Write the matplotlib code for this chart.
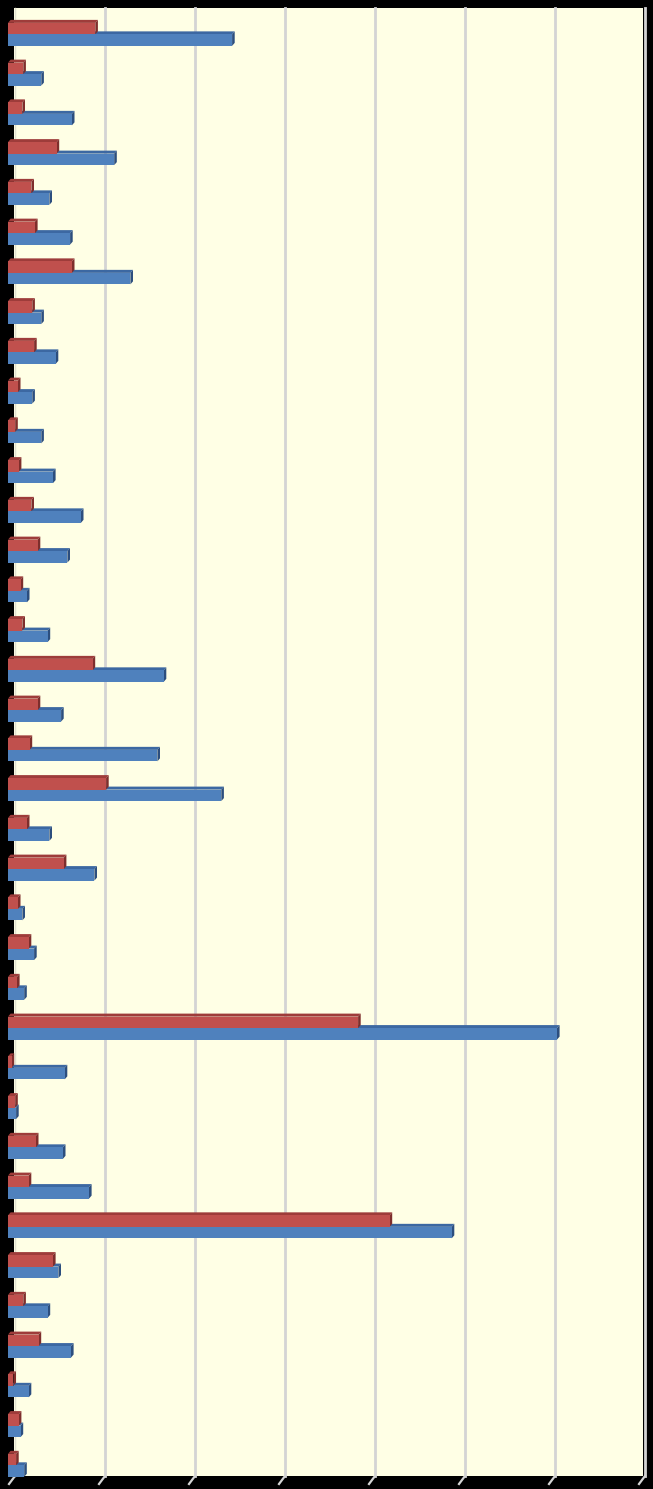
import matplotlib
matplotlib.use("Agg")
import matplotlib.pyplot as plt
from matplotlib.patches import Polygon, Rectangle
from matplotlib.lines import Line2D
import numpy as np

# data (grid step = 10 units)
categories = [f"C{i+1}" for i in range(37)]
red_values = [9.7, 1.7, 1.6, 5.4, 2.6, 3.0, 7.1, 2.7, 2.9, 1.1, 0.8, 1.2, 2.6, 3.3,
              1.4, 1.6, 9.4, 3.3, 2.4, 10.9, 2.1, 6.2, 1.1, 2.3, 1.0, 38.9, 0.4, 0.8,
              3.1, 2.3, 42.4, 5.0, 1.7, 3.4, 0.6, 1.2, 0.9]
blue_values = [24.9, 3.7, 7.1, 11.8, 4.6, 6.9, 13.6, 3.7, 5.3, 2.7, 3.7, 5.0, 8.1, 6.6,
               2.1, 4.4, 17.3, 5.9, 16.6, 23.7, 4.6, 9.6, 1.6, 2.9, 1.8, 61.0, 6.3, 0.9,
               6.1, 9.0, 49.3, 5.6, 4.4, 7.0, 2.3, 1.4, 1.8]
x_ticks = [0, 10, 20, 30, 40, 50, 60, 70]

W, H = 653, 1489
fig = plt.figure(figsize=(W / 100, H / 100), dpi=100, facecolor="black")

def fx(px):
    return px / W

def fy(py_top):
    return 1 - py_top / H

# back wall
wall_l, wall_r, wall_t, wall_b = 14, 643, 8, 1476
fig.patches.append(Rectangle((fx(wall_l), fy(wall_b)), fx(wall_r - wall_l),
                             (wall_b - wall_t) / H, transform=fig.transFigure,
                             facecolor="#FFFFE5", edgecolor="none", zorder=0))

# bars axes (front plane)
ax_top, ax_bot = 14.5, 1485.2
ax = fig.add_axes([fx(8), fy(ax_bot), fx(630), (ax_bot - ax_top) / H])
ax.set_facecolor("none")
ax.set_xlim(x_ticks[0], x_ticks[-1])
n = len(categories)
ax.set_ylim(n - 0.5, -0.5)
for s in ax.spines.values():
    s.set_visible(False)
ax.set_xticks([])
ax.set_yticks([])
ax.patch.set_visible(False)

# gridlines on back wall
grid_dx = 7  # pixel offset of back wall
fig.canvas.draw()
for t in x_ticks:
    xd, _ = ax.transData.transform((t, 0))
    xb = xd + grid_dx
    if t > 0:
        fig.add_artist(Line2D([fx(xb), fx(xb)], [fy(wall_b), fy(wall_t)],
                              transform=fig.transFigure, color="#D4D4D4", lw=2.0, zorder=1))
    fig.add_artist(Line2D([fx(xb), fx(xb - 6)], [fy(wall_b), fy(wall_b + 8)],
                          transform=fig.transFigure, color="#D4D4D4", lw=1.6, zorder=1))
# left wall edge
fig.add_artist(Line2D([fx(wall_l + 0.5), fx(wall_l + 0.5)], [fy(wall_b), fy(wall_t)],
                      transform=fig.transFigure, color="#E0E0D0", lw=1.0, zorder=1))

bh = 0.289
y = np.arange(n)
dx, dy = 2.6, 3.0  # depth offset in pixels

def bar3d(vals, offs, front, top, side):
    ax.barh(y + offs, vals, height=bh, color=front, edgecolor="none", zorder=3)
    for yi, v in zip(y + offs, vals):
        x0, y0 = ax.transData.transform((0, yi - bh / 2))
        x1, y1 = ax.transData.transform((v, yi + bh / 2))
        ytop = max(y0, y1)
        ybot = min(y0, y1)
        topface = [(x0, ytop), (x1, ytop), (x1 + dx, ytop + dy), (x0 + dx, ytop + dy)]
        sideface = [(x1, ytop), (x1 + dx, ytop + dy), (x1 + dx, ybot + dy), (x1, ybot)]
        fig.add_artist(Polygon(topface, closed=True, transform=None,
                               facecolor=top, edgecolor="none", zorder=2))
        fig.add_artist(Polygon(sideface, closed=True, transform=None,
                               facecolor=side, edgecolor="none", zorder=2))

# blue first (lower), then red (upper) so red covers blue's top face
bar3d(blue_values, bh / 2, "#4F81BD", "#3C68A2", "#2C4E7E")
ax.set_zorder(3)
bar3d(red_values, -bh / 2, "#C0504D", "#9E3C3A", "#7E2E2C")

fig.savefig("out.png", dpi=100, facecolor="black")
